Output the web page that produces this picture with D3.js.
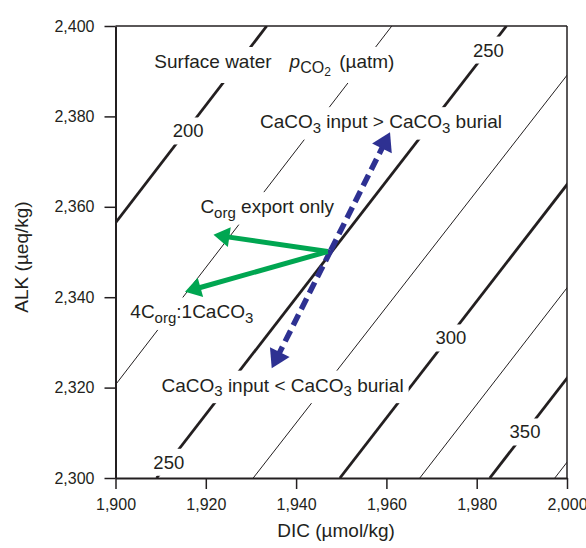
<!DOCTYPE html>
<html>
<head>
<meta charset="utf-8">
<script src="https://cdn.jsdelivr.net/npm/d3@7"></script>
<style>
  body { margin: 0; background: #fff; }
  text { font-family: "Liberation Sans", Arial, sans-serif; fill: #231f20; }
</style>
</head>
<body>
<div id="chart"></div>
<script>
// axis ticks
var dicTicks = [1900, 1920, 1940, 1960, 1980, 2000];
var alkTicks = [2300, 2320, 2340, 2360, 2380, 2400];

// pCO2 isolines (uatm), given by DIC where they cross ALK = 2300 and ALK = 2400
var pco2Levels = [200, 225, 250, 275, 300, 325, 350, 375];
var dicAtAlk2300 = [1856.6, 1884.1, 1909.1, 1930.5, 1949.7, 1967.4, 1982.9, 1997.3];
var dicAtAlk2400 = [1933.5, 1961.2, 1986.6, 2008.5, 2027.2, 2044.9, 2060.4, 2074.8];

// isoline labels: level, DIC, ALK
var isoLabels = [
  [200, 1916.1, 2376.8],
  [250, 1982.6, 2394.7],
  [250, 1911.8, 2303.5],
  [300, 1974.3, 2331.0],
  [350, 1990.7, 2310.2]
];

// process vectors (DIC, ALK)
var startPoint = [1947.0, 2350.1];
var corgOnlyEnd = [1921.7, 2353.8];
var corgCaco3End = [1915.4, 2341.2];
var caco3Gain = [1960.8, 2376.5];
var caco3Loss = [1934.6, 2324.3];

var width = 586, height = 548;
var pLeft = 115.5, pRight = 567, pTop = 26, pBottom = 478;

var x = d3.scaleLinear().domain([1900, 2000]).range([pLeft, pRight]);
var y = d3.scaleLinear().domain([2300, 2400]).range([pBottom, pTop]);

var svg = d3.select("#chart").append("svg")
  .attr("width", width)
  .attr("height", height)
  .style("background", "#fff");

svg.append("clipPath").attr("id", "plot")
  .append("rect")
  .attr("x", pLeft).attr("y", pTop)
  .attr("width", pRight - pLeft).attr("height", pBottom - pTop);

// isolines
svg.append("g").attr("clip-path", "url(#plot)")
  .selectAll("line")
  .data(pco2Levels)
  .enter()
  .append("line")
  .attr("x1", function(d, i) { return x(dicAtAlk2300[i]); })
  .attr("y1", y(2300))
  .attr("x2", function(d, i) { return x(dicAtAlk2400[i]); })
  .attr("y2", y(2400))
  .attr("stroke", "#231f20")
  .attr("stroke-width", function(d) { return d % 50 === 0 ? 2.8 : 1; });

// text layer, each text gets a white box so the isolines break around it
var textLayer = svg.append("g");

function subText(g, parts, size) {
  var t = g.append("text").attr("text-anchor", "middle").style("font-size", size + "px");
  var shift = 0;
  parts.forEach(function(p) {
    var s = t.append("tspan").text(p.t);
    var target = p.sub || 0;
    if (target !== shift) s.attr("dy", target - shift);
    shift = target;
    if (p.dx) s.attr("dx", p.dx);
    if (p.size) s.style("font-size", p.size + "px");
    if (p.italic) s.style("font-style", "italic");
  });
  return t;
}

function boxed(px, py, parts, size, pad) {
  var g = textLayer.append("g").attr("transform", "translate(" + px + "," + py + ")");
  var t = subText(g, parts, size);
  var b = t.node().getBBox();
  g.insert("rect", "text")
    .attr("x", b.x - pad).attr("y", b.y - pad + 1)
    .attr("width", b.width + 2 * pad).attr("height", b.height + 2 * pad - 2)
    .attr("fill", "#fff");
  return g;
}

var sub = 4.5, subSize = 15;

boxed(274.4, 68, [
  { t: "Surface water" },
  { t: "p", italic: true, dx: 18 },
  { t: "CO", sub: 5, size: 16 },
  { t: "2", sub: 8, size: 12 },
  { t: " (\u00b5atm)", sub: 0, dx: 3 }
], 19, 5);

boxed(x(1958.8), y(2377.4), [
  { t: "CaCO" }, { t: "3", sub: sub, size: subSize },
  { t: " input > CaCO", sub: 0 }, { t: "3", sub: sub, size: subSize },
  { t: " burial", sub: 0 }
], 19, 5);

boxed(x(1933.6), y(2358.6), [
  { t: "C" }, { t: "org", sub: sub, size: subSize },
  { t: " export only", sub: 0 }
], 19, 5);

boxed(x(1916.9), y(2335.3), [
  { t: "4C" }, { t: "org", sub: sub, size: subSize },
  { t: ":1CaCO", sub: 0 }, { t: "3", sub: sub, size: subSize }
], 19, 5);

boxed(x(1937.0), y(2319.1), [
  { t: "CaCO" }, { t: "3", sub: sub, size: subSize },
  { t: " input < CaCO", sub: 0 }, { t: "3", sub: sub, size: subSize },
  { t: " burial", sub: 0 }
], 19, 5);

isoLabels.forEach(function(d) {
  boxed(x(d[1]), y(d[2]) + 6.6, [{ t: String(d[0]) }], 18.5, 4);
});

// arrows
function arrow(from, to, color, w, headLen, headHalf, dash) {
  var x0 = x(from[0]), y0 = y(from[1]), x1 = x(to[0]), y1 = y(to[1]);
  var dx = x1 - x0, dy = y1 - y0, len = Math.sqrt(dx * dx + dy * dy);
  var ux = dx / len, uy = dy / len;
  var bx = x1 - ux * headLen, by = y1 - uy * headLen;
  var line = svg.append("line")
    .attr("x1", x0).attr("y1", y0)
    .attr("x2", bx + ux * 2).attr("y2", by + uy * 2)
    .attr("stroke", color).attr("stroke-width", w);
  if (dash) line.attr("stroke-dasharray", dash);
  svg.append("path")
    .attr("d", "M" + x1 + "," + y1 +
      "L" + (bx - uy * headHalf) + "," + (by + ux * headHalf) +
      "L" + (bx + uy * headHalf) + "," + (by - ux * headHalf) + "Z")
    .attr("fill", color);
}

var green = "#00a651", blue = "#2e3192";
var mid = [(caco3Gain[0] + caco3Loss[0]) / 2, (caco3Gain[1] + caco3Loss[1]) / 2];
arrow(mid, caco3Gain, blue, 5.5, 18, 11, "12,6");
arrow(mid, caco3Loss, blue, 5.5, 18, 11, "12,6");
arrow(startPoint, corgOnlyEnd, green, 5, 16, 10);
arrow(startPoint, corgCaco3End, green, 5, 16, 10);

// frame
svg.append("line").attr("x1", pLeft).attr("x2", pRight).attr("y1", pTop).attr("y2", pTop)
  .attr("stroke", "#231f20").attr("stroke-width", 1.5);
svg.append("line").attr("x1", pRight).attr("x2", pRight).attr("y1", pTop).attr("y2", pBottom)
  .attr("stroke", "#231f20").attr("stroke-width", 1.5);

// axes
var xAxis = svg.append("g")
  .attr("transform", "translate(0," + pBottom + ")")
  .call(d3.axisBottom(x).tickValues(dicTicks).tickFormat(d3.format(",")).tickSize(11).tickSizeOuter(0).tickPadding(10));
var yAxis = svg.append("g")
  .attr("transform", "translate(" + pLeft + ",0)")
  .call(d3.axisLeft(y).tickValues(alkTicks).tickFormat(d3.format(",")).tickSize(11).tickSizeOuter(0).tickPadding(10));

[xAxis, yAxis].forEach(function(a) {
  a.attr("font-size", null).attr("font-family", null);
  a.select(".domain").attr("stroke", "#231f20").attr("stroke-width", 2);
  a.selectAll(".tick line").attr("stroke", "#231f20").attr("stroke-width", 1.5);
  a.selectAll(".tick text")
    .style("font-size", "16px")
    .attr("fill", "#231f20");
});

svg.append("text")
  .attr("x", 336).attr("y", 536.5)
  .attr("text-anchor", "middle")
  .style("font-size", "19px")
  .text("DIC (\u00b5mol/kg)");

svg.append("text")
  .attr("transform", "translate(28,257) rotate(-90)")
  .attr("text-anchor", "middle")
  .style("font-size", "19px")
  .text("ALK (\u00b5eq/kg)");
</script>
</body>
</html>
